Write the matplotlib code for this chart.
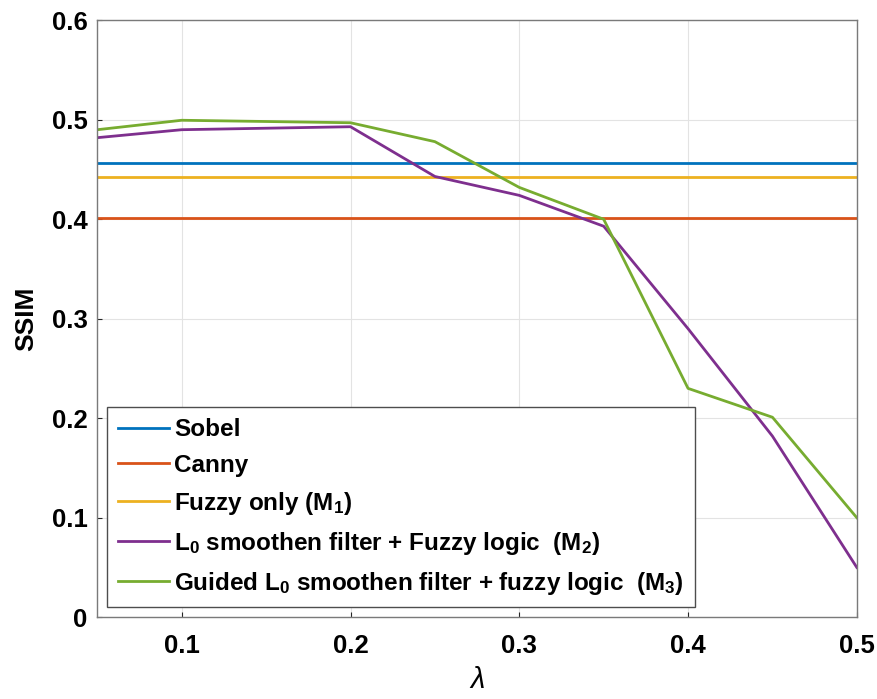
import numpy as np
import matplotlib.pyplot as plt

plt.rcParams['font.family'] = ['Liberation Sans', 'DejaVu Sans']
plt.rcParams['font.weight'] = 'bold'
plt.rcParams['mathtext.fontset'] = 'custom'
plt.rcParams['mathtext.rm'] = 'Liberation Sans:bold'
plt.rcParams['mathtext.bf'] = 'Liberation Sans:bold'
plt.rcParams['mathtext.it'] = 'Liberation Sans:italic'
plt.rcParams['mathtext.default'] = 'bf'

lam = [0.05, 0.1, 0.2, 0.25, 0.3, 0.35, 0.4, 0.45, 0.5]
sobel = 0.457
canny = 0.401
fuzzy = 0.442
m2 = [0.482, 0.490, 0.493, 0.443, 0.424, 0.393, 0.290, 0.182, 0.050]
m3 = [0.490, 0.4995, 0.497, 0.478, 0.432, 0.400, 0.230, 0.201, 0.100]

labels = ["Sobel", "Canny", "Fuzzy only (M$_1$)",
          "L$_0$ smoothen filter + Fuzzy logic  (M$_2$)",
          "Guided L$_0$ smoothen filter + fuzzy logic  (M$_3$)"]
colors = ["#0072BD", "#D95319", "#EDB120", "#7E2F8E", "#77AC30"]

fig = plt.figure(figsize=[8.77, 6.99], dpi=100)
ax = fig.add_axes([0.111, 0.117, 0.866, 0.854])

ax.plot(lam, [sobel]*len(lam), color=colors[0], lw=2, label=labels[0])
ax.plot(lam, [canny]*len(lam), color=colors[1], lw=2, label=labels[1])
ax.plot(lam, [fuzzy]*len(lam), color=colors[2], lw=2, label=labels[2])
ax.plot(lam, m2, color=colors[3], lw=2, label=labels[3])
ax.plot(lam, m3, color=colors[4], lw=2, label=labels[4])

ax.set_xlim(0.05, 0.5)
ax.set_ylim(0, 0.6)
ax.set_xticks([0.1, 0.2, 0.3, 0.4, 0.5])
ax.set_yticks([0, 0.1, 0.2, 0.3, 0.4, 0.5, 0.6])
ax.set_xticklabels(["0.1", "0.2", "0.3", "0.4", "0.5"])
ax.set_yticklabels(["0", "0.1", "0.2", "0.3", "0.4", "0.5", "0.6"])
ax.tick_params(direction='in', labelsize=18.5, color='#262626')
ax.tick_params(axis='x', pad=12)
ax.tick_params(axis='y', pad=7)
ax.grid(True, color='#e3e3e3', lw=0.8)
ax.set_axisbelow(True)
for s in ax.spines.values():
    s.set_color('#7a7a7a')
    s.set_linewidth(1.0)

ax.set_ylabel("SSIM", fontsize=19, fontweight='bold', labelpad=10)
ax.set_xlabel("λ", fontsize=21, fontweight='normal', fontstyle='italic', labelpad=6)

leg = ax.legend(loc='lower left', fontsize=17.5, handlelength=2.1, handletextpad=0.2,
                labelspacing=0.53, borderaxespad=0.4, fancybox=False, framealpha=1,
                borderpad=0.45)
leg.get_frame().set_edgecolor('#4d4d4d')
leg.get_frame().set_linewidth(1.0)

fig.savefig("out.png", dpi=100)
